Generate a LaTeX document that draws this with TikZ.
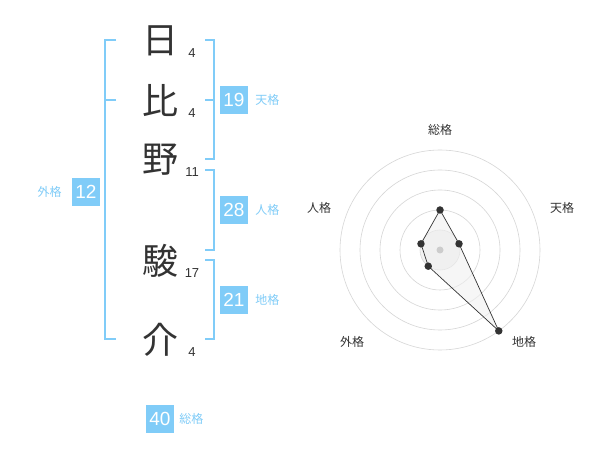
\documentclass[tikz,border=0pt]{standalone}
\usepackage{fontspec}
\setmainfont{Liberation Sans}
\newfontfamily\cjk{Noto Sans CJK JP}
\usetikzlibrary{positioning,calc}
\definecolor{SeimeiBlue}{HTML}{80CCF8}
\definecolor{SeimeiText}{HTML}{333333}
\definecolor{SeimeiGrid}{HTML}{D6D6D6}
\tikzset{
  kanji/.style={font=\cjk\fontsize{36}{36}\selectfont,text=SeimeiText,inner sep=0pt},
  strokes/.style={font=\fontsize{13}{13}\selectfont,text=SeimeiText,inner sep=0pt},
  kakubox/.style={fill=SeimeiBlue,minimum width=28pt,minimum height=28pt,inner sep=0pt,
    text=white,font=\fontsize{19}{19}\selectfont},
  kakulabel/.style={font=\cjk\fontsize{12}{12}\selectfont,text=SeimeiBlue,inner sep=0pt},
  bracket/.style={draw=SeimeiBlue,line width=2pt},
  ring/.style={draw=SeimeiGrid,line width=0.6pt},
  axislabel/.style={font=\cjk\fontsize{12}{12}\selectfont,text=SeimeiText,inner sep=0pt},
  datapt/.style={circle,fill=SeimeiText,minimum size=7.5pt,inner sep=0pt}
}

\begin{document}
\begin{tikzpicture}[x=1pt,y=1pt]
  \path[use as bounding box,fill=white] (0,0) rectangle (600,-470);

  % name characters and stroke counts
  \foreach \ch/\y/\n/\k in {日/41/4/c1,比/101/4/c2,野/160/11/c3,駿/261/17/c4,介/340/4/c5}{
    \node[kanji] (\k) at (160,-\y) {\ch};
    \node[strokes] (\k n) at (192,-\y-12) {\n};
  }

  % brackets
  \coordinate (lt) at (116,-40);
  \coordinate (lm) at (116,-100);
  \coordinate (lb) at (116,-339);
  \draw[bracket] (lt) -- (105,-40) -- (105,-339) -- (lb);
  \draw[bracket] (lm) -- (105,-100);
  \coordinate (rt) at (205,-40);
  \coordinate (rm) at (205,-100);
  \coordinate (rb) at (205,-159);
  \draw[bracket] (rt) -- (214,-40) -- (214,-159) -- (rb);
  \draw[bracket] (rm) -- (214,-100);
  \coordinate (jt) at (205,-170);
  \coordinate (jb) at (205,-250);
  \draw[bracket] (jt) -- (214,-170) -- (214,-250) -- (jb);
  \coordinate (ct) at (205,-260);
  \coordinate (cb) at (205,-339);
  \draw[bracket] (ct) -- (214,-260) -- (214,-339) -- (cb);

  % kaku boxes
  \node[kakubox] (ten) at (234,-100) {19};
  \node[kakulabel,right=7pt of ten] (tenl) {天格};
  \node[kakubox] (jin) at (234,-210) {28};
  \node[kakulabel,right=7pt of jin] (jinl) {人格};
  \node[kakubox] (chi) at (234,-300) {21};
  \node[kakulabel,right=7pt of chi] (chil) {地格};
  \node[kakubox] (gai) at (86,-192) {12};
  \node[kakulabel,left=10pt of gai] (gail) {外格};
  \node[kakubox] (sou) at (160,-419) {40};
  \node[kakulabel,right=5pt of sou] (soul) {総格};

  % radar chart
  \begin{scope}[shift={(440,-250)}]
    \fill[black!5] (0,0) circle (20);
    \foreach \r in {20,40,60,80,100}{
      \draw[ring] (0,0) circle (\r);
    }
    \coordinate (p1) at (90:40);
    \coordinate (p2) at (18:20);
    \coordinate (p3) at (-54:100);
    \coordinate (p4) at (-126:20);
    \coordinate (p5) at (162:20);
    \filldraw[fill=black!6,fill opacity=0.6,draw=SeimeiText,line width=0.7pt]
      (p1) -- (p2) -- (p3) -- (p4) -- (p5) -- cycle;
    \fill[black!20] (0,0) circle (3.5);
    \foreach \p in {p1,p2,p3,p4,p5}{
      \node[datapt] at (\p) {};
    }
    \node[axislabel] (a1) at (0,120) {総格};
    \node[axislabel] (a2) at (122,42) {天格};
    \node[axislabel] (a3) at (84,-92) {地格};
    \node[axislabel] (a4) at (-88,-92) {外格};
    \node[axislabel] (a5) at (-121,42) {人格};
  \end{scope}
\end{tikzpicture}
\end{document}
